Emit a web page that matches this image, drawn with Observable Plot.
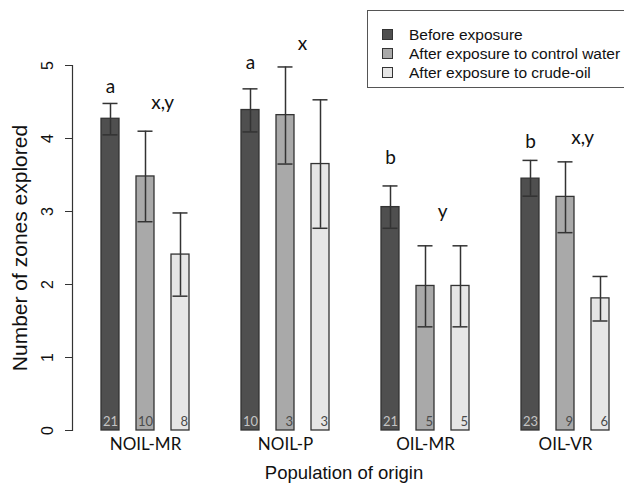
<!DOCTYPE html>
<html>
<head>
<meta charset="utf-8">
<script src="https://cdn.jsdelivr.net/npm/d3@7"></script>
<script src="https://cdn.jsdelivr.net/npm/@observablehq/plot@0.6"></script>
<style>
  html, body { margin: 0; padding: 0; background: #fff; overflow: hidden; }
  #wrap { position: relative; width: 624px; height: 490px; }
  #legend { position: absolute; left: 367px; top: 10px; width: 280px; height: 78px;
    border: 1.5px solid #555; box-sizing: border-box; background: #fff;
    font-family: "Liberation Sans", Arial, sans-serif; font-size: 15.5px; color: #111; padding-top: 14px; }
  .row { display: flex; align-items: center; height: 19px; }
  .sw { width: 9px; height: 9px; border: 1px solid #333; margin-left: 14px; margin-right: 16px; }
</style>
</head>
<body>
<div id="wrap"><div id="chart"></div><div id="legend"></div></div>
<script>
const populations = ["NOIL-MR", "NOIL-P", "OIL-MR", "OIL-VR"];
const treatments = ["Before exposure", "After exposure to control water", "After exposure to crude-oil"];
const fills = ["#4f4f4f", "#a9a9a9", "#e6e6e6"];
const means = [[4.27, 3.48, 2.41], [4.39, 4.32, 3.65], [3.06, 1.98, 1.98], [3.45, 3.20, 1.81]];
const upper = [[4.48, 4.10, 2.98], [4.68, 4.98, 4.53], [3.35, 2.53, 2.53], [3.70, 3.68, 2.11]];
const lower = [[4.05, 2.86, 1.84], [4.09, 3.65, 2.77], [2.77, 1.42, 1.42], [3.21, 2.71, 1.50]];
const counts = [[21, 10, 8], [10, 3, 3], [21, 5, 5], [23, 9, 6]];
const letters = [["a", "x,y"], ["a", "x"], ["b", "y"], ["b", "x,y"]];
const letterHeights = [[4.70, 4.49], [5.03, 5.30], [3.74, 2.99], [3.95, 4.01]];
const yTicks = [0, 1, 2, 3, 4, 5];

const rows = [];
populations.forEach((p, i) => treatments.forEach((t, j) => rows.push({
  pop: p, trt: t, key: p + "|" + t, mean: means[i][j], lo: lower[i][j], hi: upper[i][j], n: counts[i][j], j
})));
const domain = [];
populations.forEach((p, i) => { if (i > 0) domain.push("gap" + i); treatments.forEach(t => domain.push(p + "|" + t)); });
const firstLetters = populations.map((p, i) => ({key: p + "|" + treatments[0], text: letters[i][0], y: letterHeights[i][0]}));
const secondLetters = populations.map((p, i) => ({key: p + "|" + treatments[2], text: letters[i][1], y: letterHeights[i][1]}));
const midKeys = populations.map(p => p + "|" + treatments[1]);

const calib = "Lato, 'Open Sans', sans-serif";
const arial = "'Liberation Sans', Arial, sans-serif";

const chart = Plot.plot({
  width: 624, height: 490,
  marginTop: 65, marginBottom: 60, marginLeft: 72, marginRight: 9,
  style: {fontFamily: arial, background: "#fff", color: "#222"},
  x: {domain, range: [95, 615], paddingInner: 0.5, paddingOuter: 0, axis: null},
  y: {domain: [0, 5], axis: null},
  color: {domain: treatments, range: fills},
  marks: [
    Plot.barY(rows, {x: "key", y: "mean", fill: "trt", stroke: "#333", strokeWidth: 1.3}),
    Plot.ruleX(rows, {x: "key", y1: "lo", y2: "hi", stroke: "#333", strokeWidth: 1.5}),
    Plot.tickY(rows, {x: "key", y: "hi", stroke: "#333", strokeWidth: 1.5, insetLeft: 1.5, insetRight: 1.5}),
    Plot.tickY(rows, {x: "key", y: "lo", stroke: "#333", strokeWidth: 1.5, insetLeft: 1.5, insetRight: 1.5}),
    Plot.text(rows, {x: "key", y: 0, text: "n", textAnchor: "end", dx: 7.5, dy: -9,
      fill: d => d.j === 0 ? "#c4c4c4" : "#4a4a4a", fontSize: 13, fontFamily: calib}),
    Plot.text(firstLetters, {x: "key", y: "y", text: "text", fontSize: 19, fontFamily: calib, fill: "#111"}),
    Plot.text(secondLetters, {x: "key", y: "y", text: "text", dx: -17.9, fontSize: 19, fontFamily: calib, fill: "#111"}),
    Plot.axisY({ticks: yTicks, tickFormat: "d", tickSize: 7, tickRotate: -90, fontSize: 16, label: null, tickPadding: 13, stroke: "#333", fill: "#111"}),
    Plot.frame({anchor: "left", stroke: "#333", strokeWidth: 1.2}),
    Plot.axisX({ticks: midKeys, tickFormat: k => k.split("|")[0], tickSize: 0, tickPadding: 7,
      fontSize: 17, fontFamily: calib, label: null, fill: "#111"}),
    Plot.text(["Number of zones explored"], {frameAnchor: "left", rotate: -90, textAnchor: "middle", lineAnchor: "middle", dx: -52, fontSize: 21, fill: "#111"}),
    Plot.text(["Population of origin"], {frameAnchor: "bottom", textAnchor: "middle", lineAnchor: "middle", dy: 43, fontSize: 18.5, fill: "#111"})
  ]
});
document.getElementById("chart").appendChild(chart);

const legend = document.getElementById("legend");
treatments.forEach((t, j) => {
  const r = document.createElement("div"); r.className = "row";
  const s = document.createElement("div"); s.className = "sw"; s.style.background = fills[j];
  const l = document.createElement("span"); l.textContent = t;
  r.appendChild(s); r.appendChild(l); legend.appendChild(r);
});
</script>
</body>
</html>
